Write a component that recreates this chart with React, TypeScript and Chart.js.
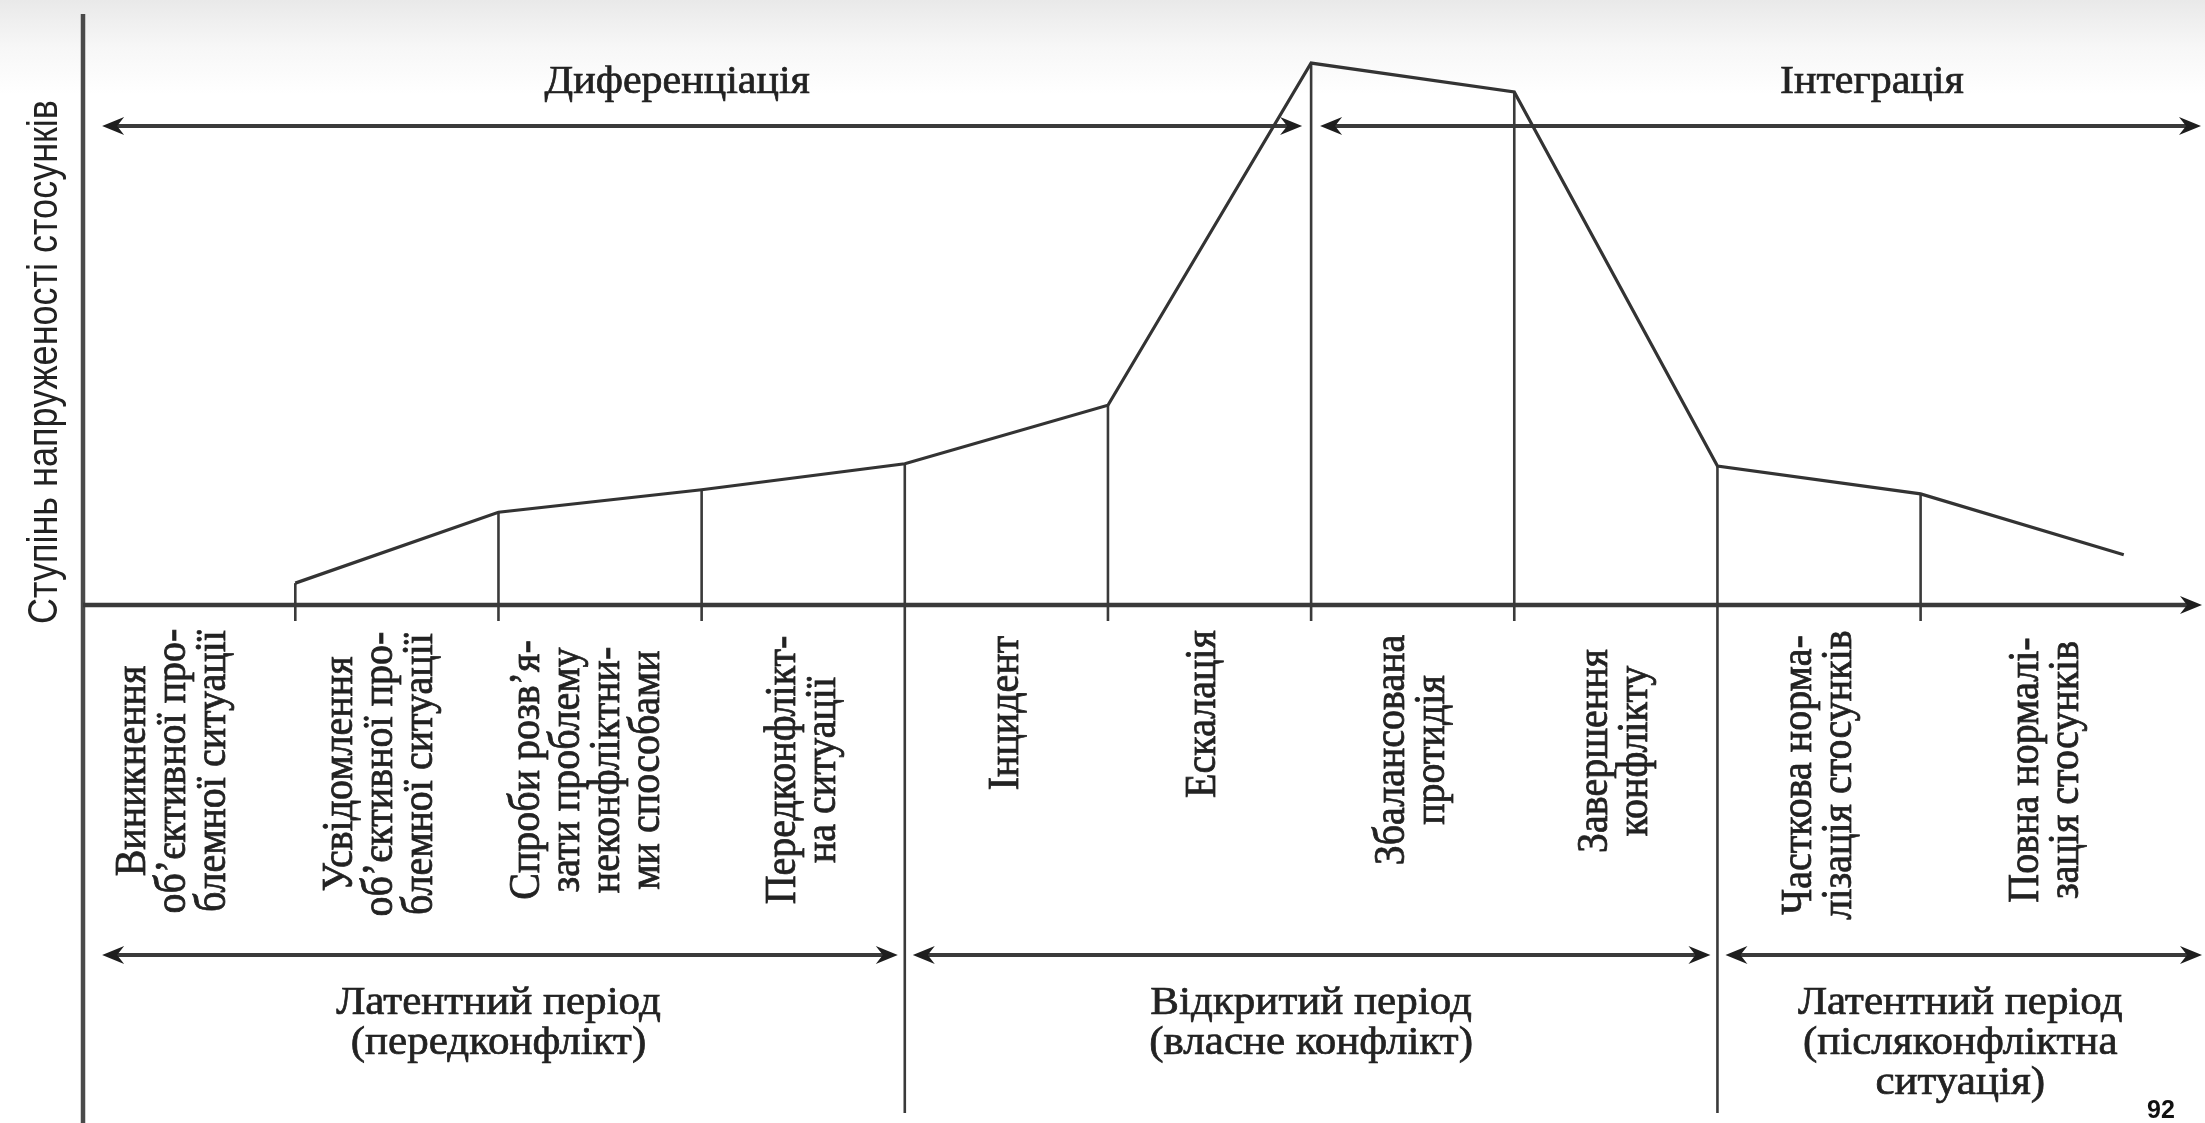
import React, { useEffect, useRef } from "react";
import { Chart, registerables } from "chart.js";

Chart.register(...registerables);

// ---- data ----
const stageLabels: string[][] = [
  ["Виникнення", "об’єктивної про-", "блемної ситуації"],
  ["Усвідомлення", "об’єктивної про-", "блемної ситуації"],
  ["Спроби розв’я-", "зати проблему", "неконфліктни-", "ми способами"],
  ["Передконфлікт-", "на ситуації"],
  ["Інцидент"],
  ["Ескалація"],
  ["Збалансована", "протидія"],
  ["Завершення", "конфлікту"],
  ["Часткова норма-", "лізація стосунків"],
  ["Повна нормалі-", "зація стосунків"],
];
// x position (stage boundary) at which each stage ends
const stageEnds = [1, 2, 3, 4, 5, 6, 7, 8, 9, 10];
// degree of tension at the end of each stage (0..100)
const tensionValues = [3.7, 15.7, 19.5, 23.9, 33.8, 91.7, 86.8, 23.5, 18.8, 8.5];
// where each stage label sits on the x scale
const stageLabelX = [0.4, 1.42, 2.44, 3.5, 4.5, 5.47, 6.5, 7.5, 8.5, 9.62];

const phaseNames = ["Диференціація", "Інтеграція"];
const phaseStart = [0, 6];
const phaseEnd = [6, 10.39];
const phaseLabelX = [2.88, 8.76];

const periodNames: string[][] = [
  ["Латентний період", "(передконфлікт)"],
  ["Відкритий період", "(власне конфлікт)"],
  ["Латентний період", "(післяконфліктна", "ситуація)"],
];
const periodStart = [0, 4, 8];
const periodEnd = [4, 8, 10.39];
const periodDividers = [4, 8];

const yAxisTitle = "Ступінь напруженості стосунків";
const pageNumber = "92";

// ---- layout / style (pixels) ----
const W = 2205;
const H = 1123;
const stageLabelMidY = [771, 774, 770, 770, 713, 714, 750, 751, 775, 770];
const INK = "#222222";
const LINE = "#3a3a3a";

function arrowHead(ctx: CanvasRenderingContext2D, tipX: number, y: number, dir: number) {
  const L = 22;
  const Wd = 9;
  ctx.beginPath();
  ctx.moveTo(tipX, y);
  ctx.lineTo(tipX - dir * L, y - Wd);
  ctx.lineTo(tipX - dir * L * 0.68, y);
  ctx.lineTo(tipX - dir * L, y + Wd);
  ctx.closePath();
  ctx.fill();
}

function hArrow(ctx: CanvasRenderingContext2D, x1: number, x2: number, y: number, left: boolean, right: boolean) {
  ctx.beginPath();
  ctx.moveTo(x1 + (left ? 8 : 0), y);
  ctx.lineTo(x2 - (right ? 8 : 0), y);
  ctx.stroke();
  if (left) arrowHead(ctx, x1, y, -1);
  if (right) arrowHead(ctx, x2, y, 1);
}

function text(
  ctx: CanvasRenderingContext2D,
  s: string,
  x: number,
  y: number,
  angle: number,
  sx: number,
  align: CanvasTextAlign,
  heavy: boolean
) {
  ctx.save();
  ctx.translate(x, y);
  ctx.scale(sx, 1);
  ctx.rotate(angle);
  ctx.textAlign = align;
  ctx.textBaseline = "middle";
  ctx.fillText(s, 0, 0);
  if (heavy) {
    ctx.lineWidth = 0.7;
    ctx.strokeStyle = ctx.fillStyle as string;
    ctx.strokeText(s, 0, 0);
  }
  ctx.restore();
}

const diagramPlugin = {
  id: "conflictDiagram",
  beforeDraw(chart: any) {
    const ctx: CanvasRenderingContext2D = chart.ctx;
    ctx.save();
    ctx.fillStyle = "#ffffff";
    ctx.fillRect(0, 0, W, H);
    const g = ctx.createLinearGradient(0, 0, 0, 95);
    g.addColorStop(0, "#e9e9e9");
    g.addColorStop(0.5, "#f7f7f7");
    g.addColorStop(1, "#ffffff");
    ctx.fillStyle = g;
    ctx.fillRect(0, 0, W, 95);
    ctx.restore();
  },
  beforeDatasetsDraw(chart: any) {
    const ctx: CanvasRenderingContext2D = chart.ctx;
    const xs = chart.scales.x;
    const ys = chart.scales.y;
    const area = chart.chartArea;
    const axisY = ys.getPixelForValue(0);
    ctx.save();
    ctx.filter = "blur(0.6px)";
    ctx.lineCap = "butt";

    // stage boundary verticals
    ctx.strokeStyle = LINE;
    ctx.lineWidth = 2.6;
    stageEnds.forEach((sx, i) => {
      if (i === stageEnds.length - 1) return;
      const px = xs.getPixelForValue(sx);
      const py = ys.getPixelForValue(tensionValues[i]);
      const isDivider = periodDividers.includes(sx);
      ctx.beginPath();
      ctx.moveTo(px, py);
      ctx.lineTo(px, isDivider ? H - 10 : axisY + 16);
      ctx.stroke();
    });

    // y axis
    ctx.strokeStyle = "#4a4a4a";
    ctx.lineWidth = 4.5;
    ctx.beginPath();
    ctx.moveTo(area.left, area.top);
    ctx.lineTo(area.left, H);
    ctx.stroke();

    // x axis with arrow
    ctx.fillStyle = "#1e1e1e";
    ctx.strokeStyle = "#3a3a3a";
    ctx.lineWidth = 4.5;
    hArrow(ctx, area.left, area.right - 1, axisY, false, true);

    // phase arrows (top)
    const topY = 126;
    ctx.lineWidth = 4;
    phaseNames.forEach((_, i) => {
      const x1 = xs.getPixelForValue(phaseStart[i]) + (i === 0 ? 10 : 9);
      const x2 = xs.getPixelForValue(phaseEnd[i]) - (i === phaseNames.length - 1 ? 2 : 9);
      hArrow(ctx, x1, x2, topY, true, true);
    });

    // period arrows (bottom)
    const botY = 955;
    periodNames.forEach((_, i) => {
      const x1 = xs.getPixelForValue(periodStart[i]) + (i === 0 ? 10 : 8);
      const x2 = xs.getPixelForValue(periodEnd[i]) - (i === periodNames.length - 1 ? 1 : 7);
      hArrow(ctx, x1, x2, botY, true, true);
    });
    ctx.restore();

    ctx.save();
    ctx.filter = "blur(0.5px)";
  },
  afterDatasetsDraw(chart: any) {
    const ctx: CanvasRenderingContext2D = chart.ctx;
    ctx.restore();
    const xs = chart.scales.x;

    ctx.save();
    ctx.filter = "blur(0.45px)";
    ctx.fillStyle = INK;

    // y axis title
    ctx.font = "36px 'Liberation Sans', Arial, sans-serif";
    text(ctx, yAxisTitle, 45, 362, -Math.PI / 2, 1.2, "center", false);

    // phase names
    ctx.font = "40px 'Liberation Serif', 'Times New Roman', serif";
    phaseNames.forEach((name, i) => {
      text(ctx, name, xs.getPixelForValue(phaseLabelX[i]), 82, 0, 1.05, "center", true);
    });

    // stage labels (rotated)
    ctx.font = "40px 'Liberation Serif', 'Times New Roman', serif";
    const lh = 40;
    stageLabels.forEach((lines, i) => {
      const cx = xs.getPixelForValue(stageLabelX[i]);
      lines.forEach((ln, j) => {
        const lx = cx + (j - (lines.length - 1) / 2) * lh;
        text(ctx, ln, lx, stageLabelMidY[i], -Math.PI / 2, 1.1, "center", true);
      });
    });

    // period names
    ctx.font = "41px 'Liberation Serif', 'Times New Roman', serif";
    periodNames.forEach((lines, i) => {
      const cx = (xs.getPixelForValue(periodStart[i]) + xs.getPixelForValue(periodEnd[i])) / 2;
      lines.forEach((ln, j) => {
        text(ctx, ln, cx, 1003 + j * 40, 0, 1.05, "center", true);
      });
    });

    // page number
    ctx.filter = "none";
    ctx.fillStyle = "#111";
    ctx.font = "bold 25px 'Liberation Sans', Arial, sans-serif";
    ctx.textAlign = "center";
    ctx.textBaseline = "alphabetic";
    ctx.fillText(pageNumber, 2161, 1118);
    ctx.restore();
  },
};

export default function App() {
  const ref = useRef<HTMLCanvasElement | null>(null);

  useEffect(() => {
    document.body.style.margin = "0";
    document.body.style.overflow = "hidden";
    const canvas = ref.current;
    if (!canvas) return;
    const chart = new Chart(canvas, {
      type: "line",
      data: {
        datasets: [
          {
            data: stageEnds.map((x, i) => ({ x, y: tensionValues[i] })),
            borderColor: "#333333",
            borderWidth: 3.2,
            pointRadius: 0,
            tension: 0,
            fill: false,
            clip: false as any,
          },
        ],
      },
      options: {
        animation: false,
        responsive: false,
        maintainAspectRatio: false,
        devicePixelRatio: 1,
        events: [],
        layout: { padding: { left: 83, top: 14, right: 2, bottom: H - 605 } },
        scales: {
          x: { type: "linear", min: -0.045, max: 10.39, display: false },
          y: { type: "linear", min: 0, max: 100, display: false },
        },
        plugins: { legend: { display: false }, tooltip: { enabled: false } },
      },
      plugins: [diagramPlugin as any],
    });
    return () => chart.destroy();
  }, []);

  return (
    <div style={{ width: W, height: H, background: "#fff", position: "relative" }}>
      <canvas ref={ref} width={W} height={H} style={{ width: W, height: H, display: "block" }} />
    </div>
  );
}
